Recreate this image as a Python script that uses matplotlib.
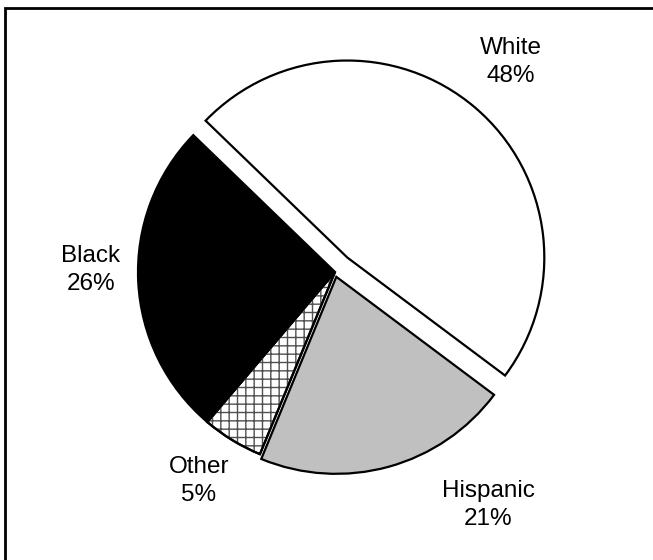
import matplotlib.pyplot as plt
from matplotlib.patches import Wedge, Rectangle

plt.rcParams['font.family'] = ['Liberation Sans', 'DejaVu Sans']

# population share by group
groups = ['White', 'Hispanic', 'Other', 'Black']
shares = [48, 21, 5, 26]
fills = ['white', '#c0c0c0', 'white', 'black']

W, H = 653, 560
fig = plt.figure(figsize=(W / 100, H / 100), dpi=100)
ax = fig.add_axes([0, 0, 1, 1])

# work in pixel units, y measured from the bottom
cx, cy, r = 335, H - 272, 197
explode = [19, 5, 0, 0]

wedges, _ = ax.pie(shares, colors=fills, explode=explode, startangle=136,
                   counterclock=False, center=(cx, cy), radius=r,
                   wedgeprops=dict(edgecolor='black', linewidth=1.6),
                   frame=True)
ax.set_xlim(0, W)
ax.set_ylim(0, H)
ax.set_aspect('equal')
ax.axis('off')

# grid hatch on the "Other" slice, drawn underneath its outline
w = wedges[2]
hatch = Wedge(w.center, w.r, w.theta1, w.theta2, facecolor='none',
              edgecolor='#505050', linewidth=0, hatch='++', zorder=w.get_zorder() + 0.1)
ax.add_patch(hatch)
outline = Wedge(w.center, w.r, w.theta1, w.theta2, facecolor='none',
                edgecolor='black', linewidth=1.6, zorder=w.get_zorder() + 0.2)
ax.add_patch(outline)

# labels placed outside the pie
label_pos = [(511, 62), (488, 505), (199, 481), (91, 270)]
for name, v, (lx, ly) in zip(groups, shares, label_pos):
    ax.text(lx, H - ly, f'{name}\n{v}%', ha='center', va='center',
            fontsize=17.5, linespacing=1.3, color='black')

# chart border; its right and bottom sides fall outside the image
ax.add_patch(Rectangle((5, -40), 700, H - 8 + 40, fill=False,
                       edgecolor='black', linewidth=2, clip_on=False))

fig.savefig('out.png', dpi=100)
